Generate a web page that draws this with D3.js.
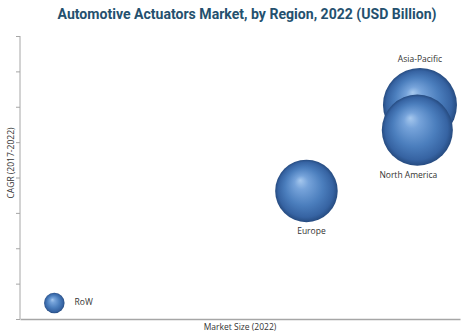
<!DOCTYPE html>
<html><head><meta charset="utf-8">
<script src="https://cdn.jsdelivr.net/npm/d3@7"></script>
<style>
body{margin:0;background:#fff;}
svg{display:block;}
</style></head>
<body>
<svg id="chart" width="473" height="336"></svg>
<script>
const regions = ["Asia-Pacific", "North America", "Europe", "RoW"];
const marketSize = [90.9, 90.3, 65.1, 7.8];
const cagr = [6.05, 5.34, 3.62, 0.45];
const bubbleSize = [91, 84, 65, 7];
const labelPos = ["top", "bottom", "bottom", "right"];
const yTicks = [0, 1, 2, 3, 4, 5, 6, 7, 8];

const svg = d3.select("#chart");
const x = d3.scaleLinear().domain([0, 100]).range([20, 460]);
const y = d3.scaleLinear().domain([0, 8]).range([319, 36]);
const r = d3.scaleSqrt().domain([0, 91]).range([0, 37]);

const defs = svg.append("defs");
const g = defs.append("radialGradient").attr("id", "ball")
  .attr("cx", "0.5").attr("cy", "0.5").attr("r", "0.5")
  .attr("fx", "0.4").attr("fy", "0.33");
[[0, "#a6c8ee"], [0.22, "#76a3da"], [0.6, "#4b7ebd"], [0.88, "#3663a2"], [1, "#264b80"]]
  .forEach(([o, c]) => g.append("stop").attr("offset", o).attr("stop-color", c));

svg.append("text").attr("x", 247).attr("y", 19).attr("text-anchor", "middle")
  .attr("font-family", "'Roboto','Liberation Sans',sans-serif")
  .attr("font-weight", "bold").attr("font-size", 15).attr("fill", "#24506e")
  .attr("textLength", 379).attr("lengthAdjust", "spacingAndGlyphs")
  .text("Automotive Actuators Market, by Region, 2022 (USD Billion)");

// y axis
const yAxis = d3.axisLeft(y).tickValues(yTicks).tickSize(4).tickFormat("");
const ya = svg.append("g").attr("transform", "translate(20,0)").call(yAxis);
ya.selectAll("path,line").attr("stroke", "#a6a6a6").attr("stroke-width", 1);
ya.select(".domain").attr("d", `M0,${y(8)}V${y(0)}`);

// x axis
const xAxis = d3.axisBottom(x).tickValues([]).tickSizeOuter(0);
const xa = svg.append("g").attr("transform", `translate(0,${y(0)})`).call(xAxis);
xa.selectAll("path").attr("stroke", "#a6a6a6").attr("stroke-width", 1.5);

const font = "'Open Sans','Noto Sans',sans-serif";
svg.append("text").attr("transform", `translate(14,${163}) rotate(-90)`)
  .attr("text-anchor", "middle").attr("font-family", font).attr("font-size", 8.5)
  .attr("fill", "#333").text("CAGR (2017-2022)");
svg.append("text").attr("x", 240).attr("y", 330).attr("text-anchor", "middle")
  .attr("font-family", font).attr("font-size", 8.5).attr("fill", "#333")
  .text("Market Size (2022)");

const data = regions.map((n, i) => ({ n, x: marketSize[i], y: cagr[i], s: bubbleSize[i], p: labelPos[i] }));

svg.append("g").selectAll("circle").data(data).join("circle")
  .attr("cx", d => x(d.x)).attr("cy", d => y(d.y)).attr("r", d => r(d.s))
  .attr("fill", "url(#ball)");

const dx = { "Asia-Pacific": 0, "North America": -9, "Europe": 5, "RoW": 0 };
svg.append("g").selectAll("text").data(data).join("text")
  .attr("font-family", font).attr("font-size", 8.5).attr("fill", "#333")
  .attr("text-anchor", d => d.p === "right" ? "start" : "middle")
  .attr("x", d => d.p === "right" ? x(d.x) + r(d.s) + 10 : x(d.x) + dx[d.n])
  .attr("y", d => d.p === "top" ? y(d.y) - r(d.s) - 6 : d.p === "bottom" ? y(d.y) + r(d.s) + 12 : y(d.y) + 2)
  .text(d => d.n);
</script>
</body></html>
